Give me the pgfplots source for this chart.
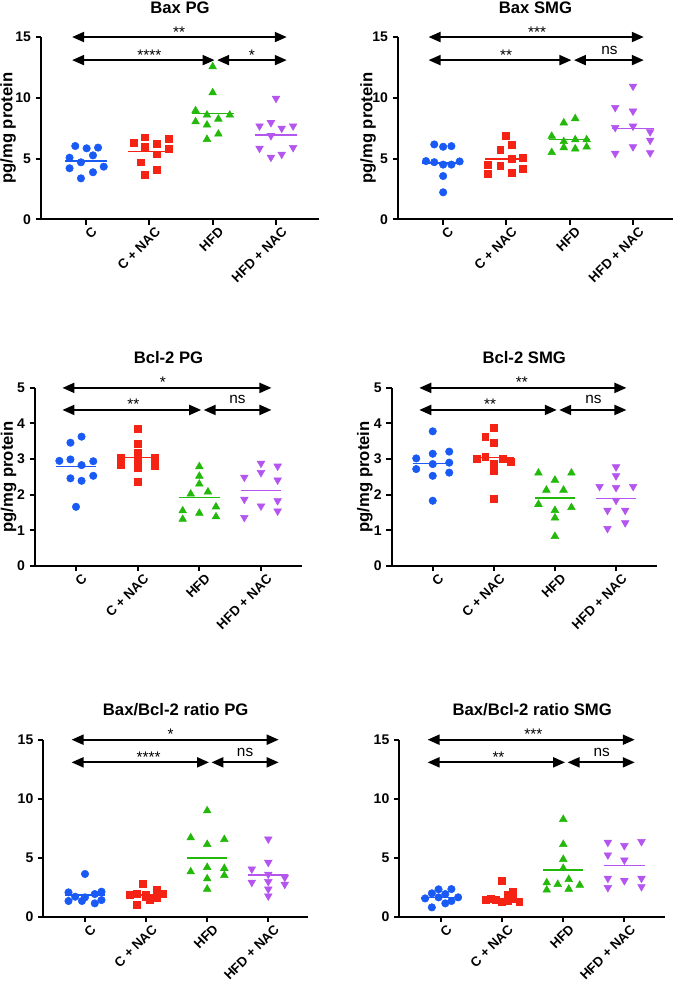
\documentclass[border=0pt]{standalone}
\usepackage{fontspec}
\setmainfont{Liberation Sans}
\usepackage{pgfplots}
\pgfplotsset{compat=1.18}
\usetikzlibrary{arrows.meta}
\definecolor{cblue}{RGB}{25,90,245}
\definecolor{cred}{RGB}{245,35,20}
\definecolor{cgreen}{RGB}{35,185,10}
\definecolor{cpurple}{RGB}{180,85,240}
\tikzset{
  dbl/.style={{Triangle[length=9pt,width=7.5pt]}-{Triangle[length=9pt,width=7.5pt]}, line width=1.5pt, black},
  star/.style={anchor=base, yshift=0pt, font=\fontsize{11.5}{13}\selectfont},
  nstxt/.style={anchor=base, yshift=4.5pt, font=\fontsize{11.5}{13}\selectfont},
  ttl/.style={anchor=base, yshift=18pt, font=\bfseries\fontsize{12.5}{14}\selectfont},
}
\pgfplotsset{
  prism/.style={
    scale only axis, anchor=south west,
    axis x line=bottom, axis y line=left,
    axis line style={-, line width=1.5pt, black},
    enlargelimits=false, clip=false,
    tick align=outside, major tick length=4pt,
    major tick style={line width=1.5pt, black},
    xtick={0,1,2,3}, xticklabels={C, C + NAC, HFD, HFD + NAC},
    x tick label style={rotate=45, anchor=north east, inner sep=0pt, xshift=2pt, yshift=-3.5pt, font=\bfseries\fontsize{10}{12}\selectfont},
    y tick label style={font=\bfseries\fontsize{10.5}{12}\selectfont},
    /pgf/number format/assume math mode=true,
    ylabel style={font=\bfseries\fontsize{12.5}{14}\selectfont, anchor=center, inner sep=0pt},
  },
  cm/.style={only marks, mark=*, color=cblue, mark size=2.8pt},
  rm/.style={only marks, mark=square*, color=cred, mark size=2.6pt},
  gm/.style={only marks, mark=triangle*, color=cgreen, mark size=3.3pt},
  pm/.style={only marks, mark=triangle*, color=cpurple, mark size=3.3pt, every mark/.append style={rotate=180}},
  mline/.style={no marks, line width=1.1pt},
}
\begin{document}
\begin{tikzpicture}
\useasboundingbox (0,0) rectangle (506.25pt,737.25pt);
% ---------- Bax PG ----------
\begin{axis}[prism, at={(30.75pt,572.78pt)}, width=208.5pt, height=136.7pt,
  xmin=-0.711, xmax=3.679, ymin=0, ymax=15, ytick={0,5,10,15},
  ylabel={pg/mg protein}, ylabel style={at={(axis description cs:-0.118,0.5)}}]
\addplot[cm] coordinates {(-0.17,6.03) (0.01,5.84) (0.19,5.90) (-0.26,5.07) (-0.08,4.69) (0.11,5.26) (-0.26,4.20) (0.11,3.87) (0.28,4.33) (-0.08,3.37)};
\addplot[rm] coordinates {(0.75,6.31) (0.93,6.75) (1.12,6.25) (1.30,6.66) (0.93,5.98) (1.30,5.79) (1.12,5.35) (0.87,4.69) (1.12,4.06) (0.93,3.70)};
\addplot[gm] coordinates {(2,12.56) (2,10.42) (1.73,8.94) (1.91,8.58) (2.27,8.58) (2.09,8.25) (1.73,8.03) (1.91,7.76) (2.09,7.02) (1.91,6.58)};
\addplot[pm] coordinates {(3,9.95) (2.92,7.95) (2.74,7.68) (3.09,7.49) (3.27,7.68) (2.92,6.88) (2.74,5.84) (3.27,5.90) (3.09,5.35) (2.92,5.10)};
\addplot[mline, cblue] coordinates {(-0.33,4.80) (0.33,4.80)};
\addplot[mline, cred] coordinates {(0.67,5.57) (1.33,5.57)};
\addplot[mline, cgreen] coordinates {(1.67,8.72) (2.33,8.72)};
\addplot[mline, cpurple] coordinates {(2.67,6.94) (3.33,6.94)};
\draw[dbl] (axis cs:-0.22,15) -- (axis cs:3.17,15);
\draw[dbl] (axis cs:-0.22,13.1) -- (axis cs:2.03,13.1);
\draw[dbl] (axis cs:2.07,13.1) -- (axis cs:3.17,13.1);
\node[star] at (axis cs:1.47,15) {**};
\node[star] at (axis cs:1.0,13.1) {****};
\node[star] at (axis cs:2.62,13.1) {*};
\node[ttl] at (axis description cs:0.5,1) {Bax PG};
\end{axis}
% ---------- Bax SMG ----------
\begin{axis}[prism, at={(298.5pt,572.78pt)}, width=206.25pt, height=136.7pt,
  xmin=-0.701, xmax=3.63, ymin=0, ymax=15, ytick={0,5,10,15},
  ylabel={pg/mg protein}, ylabel style={at={(axis description cs:-0.109,0.5)}}]
\addplot[cm] coordinates {(-0.13,6.16) (0.01,5.97) (0.14,6.02) (-0.26,4.79) (-0.13,4.70) (0.01,4.50) (0.14,4.50) (0.27,4.76) (0.01,3.56) (0.01,2.22)};
\addplot[rm] coordinates {(1,6.84) (1.09,6.10) (0.91,5.69) (1.27,5.09) (0.72,4.46) (0.91,4.41) (1.27,4.19) (0.72,3.78) (1.09,3.86) (1.09,5.0)};
\addplot[gm] coordinates {(1.91,7.94) (2.09,8.29) (1.72,6.84) (2.09,6.55) (2.27,6.55) (1.91,6.4) (1.72,5.5) (1.91,5.9) (2.09,5.8) (2.27,5.95)};
\addplot[pm] coordinates {(3,10.95) (2.72,9.2) (3,8.9) (2.72,7.55) (3,7.66) (3.27,7.2) (3.27,6.5) (3,5.97) (2.72,5.42) (3.27,5.47)};
\addplot[mline, cblue] coordinates {(-0.33,4.65) (0.33,4.65)};
\addplot[mline, cred] coordinates {(0.67,4.95) (1.33,4.95)};
\addplot[mline, cgreen] coordinates {(1.67,6.57) (2.33,6.57)};
\addplot[mline, cpurple] coordinates {(2.67,7.45) (3.33,7.45)};
\draw[dbl] (axis cs:-0.22,15) -- (axis cs:3.17,15);
\draw[dbl] (axis cs:-0.22,13.1) -- (axis cs:2.03,13.1);
\draw[dbl] (axis cs:2.07,13.1) -- (axis cs:3.17,13.1);
\node[star] at (axis cs:1.49,15) {***};
\node[star] at (axis cs:1.0,13.1) {**};
\node[nstxt] at (axis cs:2.63,13.1) {ns};
\node[ttl] at (axis description cs:0.5,1) {Bax SMG};
\end{axis}
% ---------- Bcl-2 PG ----------
\begin{axis}[prism, at={(26.25pt,312.83pt)}, width=200.25pt, height=133.5pt,
  xmin=-0.665, xmax=3.665, ymin=0, ymax=5, ytick={0,1,2,3,4,5},
  ylabel={pg/mg protein}, ylabel style={at={(axis description cs:-0.099,0.5)}}]
\addplot[cm] coordinates {(-0.09,3.46) (0.09,3.63) (-0.27,2.95) (-0.09,2.99) (0.09,2.83) (0.28,2.94) (0.28,2.53) (-0.09,2.46) (0.09,2.39) (0,1.66)};
\addplot[rm] coordinates {(1,3.86) (1,3.42) (1,3.18) (0.72,3.04) (1.27,3.04) (1,2.97) (0.72,2.85) (1.27,2.81) (1,2.75) (1,2.36)};
\addplot[gm] coordinates {(2,2.79) (2,2.52) (2,2.30) (1.86,2.02) (2.14,2.08) (1.73,1.55) (2,1.48) (2.27,1.66) (1.73,1.31) (2.27,1.38)};
\addplot[pm] coordinates {(3,2.88) (3.27,2.80) (3,2.62) (2.73,2.49) (3.27,2.41) (2.73,1.87) (3,1.68) (3.27,1.83) (3.27,1.54) (2.73,1.36)};
\addplot[mline, cblue] coordinates {(-0.33,2.79) (0.33,2.79)};
\addplot[mline, cred] coordinates {(0.67,3.04) (1.33,3.04)};
\addplot[mline, cgreen] coordinates {(1.67,1.92) (2.33,1.92)};
\addplot[mline, cpurple] coordinates {(2.67,2.12) (3.33,2.12)};
\draw[dbl] (axis cs:-0.22,5) -- (axis cs:3.17,5);
\draw[dbl] (axis cs:-0.22,4.38) -- (axis cs:2.03,4.38);
\draw[dbl] (axis cs:2.07,4.38) -- (axis cs:3.17,4.38);
\node[star] at (axis cs:1.41,5) {*};
\node[star] at (axis cs:0.93,4.38) {**};
\node[nstxt] at (axis cs:2.62,4.38) {ns};
\node[ttl] at (axis description cs:0.5,1) {Bcl-2 PG};
\end{axis}
% ---------- Bcl-2 SMG ----------
\begin{axis}[prism, at={(293.8pt,312.83pt)}, width=198.75pt, height=133.5pt,
  xmin=-0.671, xmax=3.666, ymin=0, ymax=5, ytick={0,1,2,3,4,5},
  ylabel={pg/mg protein}, ylabel style={at={(axis description cs:-0.101,0.5)}}]
\addplot[cm] coordinates {(0,3.78) (-0.27,3.02) (0,3.15) (0.27,3.21) (-0.27,2.72) (0,2.86) (0.27,2.90) (0.27,2.62) (0,2.53) (0,1.83)};
\addplot[rm] coordinates {(1,3.89) (0.86,3.63) (1,3.45) (0.72,3.02) (0.86,3.06) (1.14,3.02) (1.27,2.93) (1,2.87) (1,2.66) (1,1.88)};
\addplot[gm] coordinates {(1.73,2.61) (2.27,2.61) (2,2.41) (1.86,2.13) (2.14,2.13) (1.73,1.73) (2.27,1.64) (2,1.56) (2,1.35) (2,0.83)};
\addplot[pm] coordinates {(3,2.78) (3,2.53) (2.73,2.23) (3,2.20) (3.28,2.23) (3,1.84) (2.86,1.56) (3.15,1.56) (3.15,1.21) (2.86,1.05)};
\addplot[mline, cblue] coordinates {(-0.33,2.87) (0.33,2.87)};
\addplot[mline, cred] coordinates {(0.67,3.04) (1.33,3.04)};
\addplot[mline, cgreen] coordinates {(1.67,1.91) (2.33,1.91)};
\addplot[mline, cpurple] coordinates {(2.67,1.89) (3.33,1.89)};
\draw[dbl] (axis cs:-0.22,5) -- (axis cs:3.17,5);
\draw[dbl] (axis cs:-0.22,4.38) -- (axis cs:2.03,4.38);
\draw[dbl] (axis cs:2.07,4.38) -- (axis cs:3.17,4.38);
\node[star] at (axis cs:1.46,5) {**};
\node[star] at (axis cs:0.94,4.38) {**};
\node[nstxt] at (axis cs:2.63,4.38) {ns};
\node[ttl] at (axis description cs:0.5,1) {Bcl-2 SMG};
\end{axis}
% ---------- Bax/Bcl-2 ratio PG ----------
\begin{axis}[prism, at={(32.5pt,49.73pt)}, width=198.5pt, height=132.75pt,
  xmin=-0.682, xmax=3.65, ymin=0, ymax=15, ytick={0,5,10,15}]
\addplot[cm] coordinates {(-0.27,2.06) (-0.16,1.69) (0,1.64) (0.16,1.92) (0.27,2.12) (-0.27,1.33) (-0.05,1.33) (0.16,1.13) (0.27,1.41) (0,3.62)};
\addplot[rm] coordinates {(0.95,2.82) (1.17,2.26) (0.73,1.84) (0.84,1.92) (1,1.9) (1.28,1.98) (1.06,1.41) (1.17,1.64) (0.84,0.99) (1,1.7)};
\addplot[gm] coordinates {(2,8.98) (1.73,6.69) (2,6.13) (2.28,6.55) (1.73,3.81) (2,4.18) (2.28,4.10) (2.28,3.50) (2,3.22) (2,2.34)};
\addplot[pm] coordinates {(3,6.58) (3,4.60) (2.73,4.04) (3,3.59) (3.27,3.33) (2.73,2.91) (3.27,2.74) (3,2.97) (3,2.34) (3,1.75)};
\addplot[mline, cblue] coordinates {(-0.33,1.84) (0.33,1.84)};
\addplot[mline, cred] coordinates {(0.67,1.84) (1.33,1.84)};
\addplot[mline, cgreen] coordinates {(1.67,4.97) (2.33,4.97)};
\addplot[mline, cpurple] coordinates {(2.67,3.53) (3.33,3.53)};
\draw[dbl] (axis cs:-0.22,15) -- (axis cs:3.17,15);
\draw[dbl] (axis cs:-0.22,13.08) -- (axis cs:2.03,13.08);
\draw[dbl] (axis cs:2.07,13.08) -- (axis cs:3.17,13.08);
\node[star] at (axis cs:1.40,15) {*};
\node[star] at (axis cs:1.04,13.08) {****};
\node[nstxt] at (axis cs:2.62,13.08) {ns};
\node[ttl] at (axis description cs:0.5,1) {Bax/Bcl-2 ratio PG};
\end{axis}
% ---------- Bax/Bcl-2 ratio SMG ----------
\begin{axis}[prism, at={(299.5pt,49.73pt)}, width=199.3pt, height=132.75pt,
  xmin=-0.682, xmax=3.666, ymin=0, ymax=15, ytick={0,5,10,15}]
\addplot[cm] coordinates {(-0.04,2.32) (0.17,2.34) (-0.15,1.98) (0.07,1.92) (-0.26,1.55) (-0.04,1.64) (0.28,1.64) (0.17,1.33) (0.07,1.13) (-0.15,0.79)};
\addplot[rm] coordinates {(1,3.05) (1.17,2.12) (1.09,1.9) (0.73,1.41) (0.82,1.55) (0.9,1.41) (1.09,1.35) (1.28,1.25) (1,1.3) (1.17,1.5)};
\addplot[gm] coordinates {(2,8.25) (2,6.13) (2,4.86) (2,4.10) (1.73,2.88) (2.09,3.16) (1.91,2.74) (2.27,2.68) (1.73,2.26) (2.09,2.34)};
\addplot[pm] coordinates {(2.73,6.30) (3,6.02) (3.28,6.36) (2.73,5.23) (3,4.80) (2.73,3.25) (3,3.05) (3.28,3.25) (2.73,2.46) (3.28,2.54)};
\addplot[mline, cblue] coordinates {(-0.33,1.61) (0.33,1.61)};
\addplot[mline, cred] coordinates {(0.67,1.55) (1.33,1.55)};
\addplot[mline, cgreen] coordinates {(1.67,3.95) (2.33,3.95)};
\addplot[mline, cpurple] coordinates {(2.67,4.32) (3.33,4.32)};
\draw[dbl] (axis cs:-0.22,15) -- (axis cs:3.17,15);
\draw[dbl] (axis cs:-0.22,13.08) -- (axis cs:2.03,13.08);
\draw[dbl] (axis cs:2.07,13.08) -- (axis cs:3.17,13.08);
\node[star] at (axis cs:1.51,15) {***};
\node[star] at (axis cs:0.94,13.08) {**};
\node[nstxt] at (axis cs:2.63,13.08) {ns};
\node[ttl] at (axis description cs:0.5,1) {Bax/Bcl-2 ratio SMG};
\end{axis}
\end{tikzpicture}
\end{document}
